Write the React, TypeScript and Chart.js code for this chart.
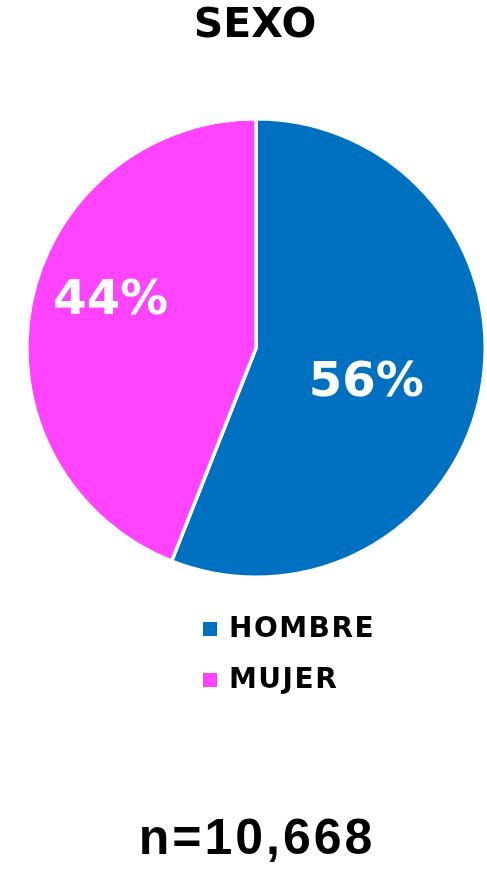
import React, { useEffect, useRef } from "react";
import { Chart, registerables } from "chart.js";

Chart.register(...registerables);

const titleText = "SEXO";
const categories = ["HOMBRE", "MUJER"];
const values = [56, 44];
const colors = ["#0070C0", "#FF43FF"];
const sampleNote = "n=10,668";

const W = 487;
const H = 872;
const FONT = '"DejaVu Sans", sans-serif';

// label placement tuned per slice: [radius fraction, angle shift in radians]
const labelPlacement = [
  [0.505, 0.12],
  [0.665, 0.12],
];

const textPlugin = {
  id: "textPlugin",
  afterDraw(chart: any) {
    const ctx = chart.ctx as CanvasRenderingContext2D;
    ctx.save();
    // title
    ctx.fillStyle = "#000";
    ctx.textAlign = "center";
    ctx.textBaseline = "middle";
    ctx.font = `bold 41px ${FONT}`;
    ctx.fillText(titleText, 255, 26);

    // slice labels
    const meta = chart.getDatasetMeta(0);
    const total = values.reduce((a, b) => a + b, 0);
    meta.data.forEach((arc: any, i: number) => {
      const { x, y, startAngle, endAngle, outerRadius } = arc.getProps(
        ["x", "y", "startAngle", "endAngle", "outerRadius"],
        true
      );
      const [rf, shift] = labelPlacement[i] || [0.6, 0];
      const mid = (startAngle + endAngle) / 2 + shift;
      const r = outerRadius * rf;
      const lx = x + Math.cos(mid) * r;
      const ly = y + Math.sin(mid) * r;
      ctx.fillStyle = "#FFFFFF";
      ctx.font = `bold 48px ${FONT}`;
      ctx.textAlign = "center";
      ctx.textBaseline = "middle";
      ctx.fillText(Math.round((values[i] / total) * 100) + "%", lx, ly);
    });

    // legend
    const legendX = 203;
    const legendY0 = 629;
    const legendGap = 51;
    categories.forEach((c, i) => {
      const cy = legendY0 + i * legendGap;
      ctx.fillStyle = colors[i];
      ctx.fillRect(legendX, cy - 7, 14, 14);
      ctx.fillStyle = "#000";
      ctx.font = `bold 28px ${FONT}`;
      (ctx as any).letterSpacing = "1.5px";
      ctx.textAlign = "left";
      ctx.textBaseline = "middle";
      ctx.fillText(c, 229, cy + 1);
      (ctx as any).letterSpacing = "0px";
    });

    // sample size note
    ctx.fillStyle = "#000";
    ctx.font = `bold 50px "Liberation Sans", Arial, sans-serif`;
    (ctx as any).letterSpacing = "3px";
    ctx.textAlign = "center";
    ctx.textBaseline = "middle";
    ctx.fillText(sampleNote, 257, 840);
    (ctx as any).letterSpacing = "0px";
    ctx.restore();
  },
};

export default function App() {
  const ref = useRef<HTMLCanvasElement>(null);
  useEffect(() => {
    if (!ref.current) return;
    const chart = new Chart(ref.current, {
      type: "pie",
      data: {
        labels: categories,
        datasets: [
          {
            data: values,
            backgroundColor: colors,
            borderColor: "#FFFFFF",
            borderWidth: 3.5,
            hoverOffset: 0,
            offset: 0,
          },
        ],
      },
      options: {
        responsive: false,
        animation: false,
        layout: { padding: { left: 25, right: 0, top: 117, bottom: 293 } },
        plugins: {
          legend: { display: false },
          title: { display: false },
          tooltip: { enabled: false },
        },
      },
      plugins: [textPlugin],
    });
    return () => chart.destroy();
  }, []);
  return (
    <div style={{ position: "absolute", left: 0, top: 0, width: W, height: H, background: "#fff" }}>
      <canvas ref={ref} width={W} height={H} style={{ display: "block", width: W, height: H }} />
    </div>
  );
}
